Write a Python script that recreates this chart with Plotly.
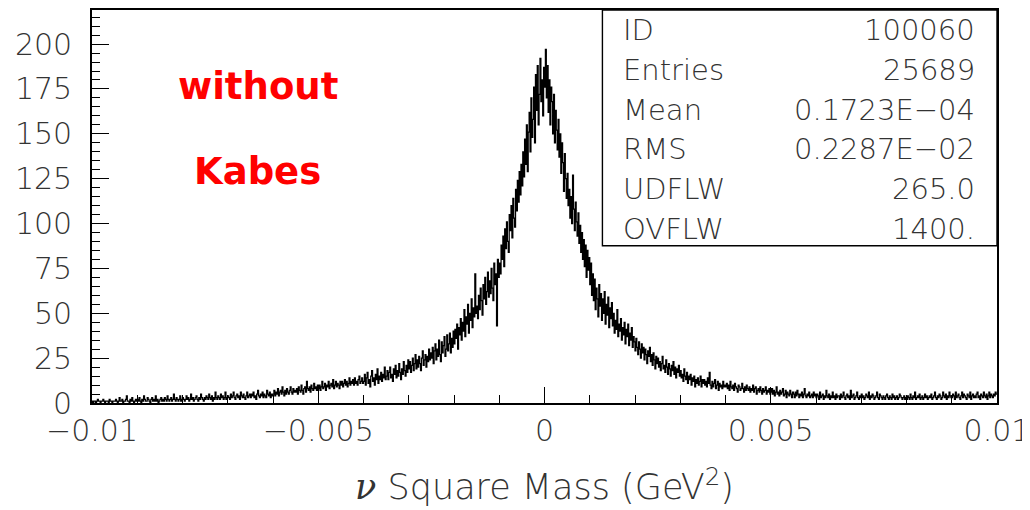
import plotly.graph_objects as go

# ---- data (1000 bins, -0.01 .. 0.01) ----
x_min, x_max, n_bins = -0.01, 0.01, 1000

seg_left_tail = [
    1,0,1,1,0,1,2,1,1,0,1,1,2,1,0,1,1,1,0,2,1,1,0,1,1,
    1,2,1,0,1,3,1,1,2,0,1,1,2,4,1,1,0,2,1,3,1,0,1,2,1,
    2,1,3,1,0,2,1,4,2,1,1,3,2,1,0,2,3,1,2,1,4,1,2,0,1,
    2,3,1,2,1,3,2,1,4,2,1,2,3,1,2,5,2,1,3,2,1,2,4,1,2,
    3,2,1,2,4,2,3,1,2,5,2,3,1,2,3,4,2,1,3,2,5,3,2,1,3,
    2,4,3,2,5,3,2,4,1,3,2,6,3,2,4,3,2,5,3,4,2,3,6,2,3,
    4,3,2,5,3,4,6,3,2,4,5,3,4,2,6,4,3,5,3,2,4,6,3,4,5,
    3,5,4,6,3,4,2,5,7,4,3,5,4,6,3,5,4,3,7,5,4,6,3,5,4,
]
seg_left_rise = [
    5,7,4,6,5,8,4,6,7,5,9,6,4,7,5,8,6,5,7,9,6,5,8,6,7,
    6,8,5,9,7,6,10,7,5,8,9,6,12,8,7,9,6,10,8,7,11,8,9,7,10,
    8,10,7,9,12,8,9,11,7,10,9,12,8,10,11,9,13,8,10,12,9,11,10,8,12,
    10,12,9,11,13,10,12,9,11,14,10,12,11,13,10,14,11,12,10,13,15,11,12,14,11,
    12,16,10,14,17,11,13,9,15,18,12,14,10,16,13,19,11,15,13,17,12,16,14,20,13,
    15,18,13,17,20,14,16,12,19,16,21,14,18,15,22,17,13,19,16,23,18,15,21,17,24,
    19,23,17,21,25,18,22,27,19,24,20,26,22,18,25,29,21,24,27,20,26,23,30,24,28,
    25,31,22,29,33,24,30,26,35,27,23,34,28,32,37,26,30,38,29,33,39,28,36,31,40,
    33,41,36,44,30,42,38,47,35,45,40,52,37,48,44,55,39,50,46,58,42,53,48,72,50,
    54,47,60,52,64,57,49,66,58,70,55,62,73,59,68,61,75,64,57,78,66,72,43,80,70,
]
seg_core = [
    78,72,88,80,93,76,97,86,101,90,84,105,96,110,92,114,103,98,119,107,124,112,129,116,133,
    121,140,126,147,133,155,129,151,162,140,170,148,158,176,145,183,163,188,155,172,192,168,180,160,187,
    176,197,170,188,162,180,155,176,168,150,172,145,163,152,141,158,137,150,128,145,134,118,139,125,114,
    128,110,119,103,115,100,127,108,96,112,101,93,106,89,99,84,95,80,91,76,88,70,85,74,81,
]
seg_right_fall = [
    66,78,60,72,57,69,52,64,58,48,66,54,61,46,58,50,62,44,55,49,59,42,53,47,56,
    43,50,39,46,41,52,37,44,40,47,35,42,38,45,33,41,37,44,32,39,35,42,31,37,34,
    29,36,31,27,34,30,25,33,28,31,24,30,27,22,29,26,31,23,27,21,28,24,19,26,22,
    25,20,23,18,22,26,19,21,17,24,20,16,22,19,15,21,18,23,16,20,14,19,17,21,15,
    18,14,16,12,19,15,13,17,11,15,13,16,10,14,12,15,9,13,11,14,10,12,15,9,13,
    11,13,10,12,9,14,11,17,10,8,12,9,11,13,8,10,12,7,11,9,10,8,12,9,10,
]
seg_right_tail = [
    9,11,8,10,7,12,9,8,10,7,11,9,8,6,10,9,7,8,11,8,6,9,7,10,8,
    7,9,6,8,7,10,6,8,9,5,7,8,6,9,7,5,8,6,7,9,5,7,6,8,5,
    6,8,5,7,4,6,9,5,6,4,7,5,6,8,4,5,7,3,6,5,4,7,5,3,6,
    5,3,6,4,7,5,3,5,4,6,3,5,8,4,3,5,4,6,3,4,5,3,6,4,5,
    3,5,4,2,6,3,4,5,2,4,3,7,4,3,5,2,4,3,6,3,4,2,5,3,4,
    4,2,5,3,4,6,3,2,4,5,3,4,2,7,3,4,5,2,3,4,6,3,2,4,3,
    5,3,4,2,3,5,4,3,6,2,4,3,5,4,2,3,4,6,3,2,5,4,3,2,4,
    3,2,4,5,3,2,4,3,2,5,3,4,2,3,4,2,3,5,4,3,2,3,4,2,3,
    2,4,3,2,5,3,2,4,3,6,2,3,4,3,5,2,3,4,2,3,5,3,4,2,3,
    4,3,5,2,3,4,6,3,2,4,3,5,4,2,3,6,4,3,5,2,4,3,6,4,3,
    3,5,4,2,6,3,4,5,3,2,4,6,3,5,4,3,2,5,4,3,6,2,4,5,3,
    4,3,5,6,3,4,2,5,4,3,6,4,3,5,2,4,6,3,5,4,3,5,4,6,5,
]

stats_labels = ["ID", "Entries", "Mean", "RMS", "UDFLW", "OVFLW"]
stats_values = ["100060", "25689", "0.1723E\u221204", "0.2287E\u221202", "265.0", "1400."]
note_lines = ["without", "Kabes"]

counts = seg_left_tail + seg_left_rise + seg_core + seg_right_fall + seg_right_tail
counts = counts[:n_bins] + [0] * max(0, n_bins - len(counts))
bw = (x_max - x_min) / n_bins
edges = [x_min + i * bw for i in range(n_bins + 1)]

fig = go.Figure()
fig.add_trace(go.Scatter(
    x=[x_min] + edges, y=[0] + counts + [counts[-1]],
    mode="lines", line=dict(color="black", width=1.25, shape="hv"),
    hoverinfo="skip", showlegend=False))

FONT = "DejaVu Sans, Liberation Sans, sans-serif"
tick_font = dict(family=FONT, size=30, color="#333333", weight=200)

fig.update_layout(
    width=1022, height=502,
    margin=dict(l=84, r=30, t=0, b=107),
    paper_bgcolor="white", plot_bgcolor="white",
    xaxis=dict(range=[x_min, x_max], showgrid=False, zeroline=False,
               showline=True, linecolor="black", linewidth=1.6, mirror=True,
               ticks="inside", tickcolor="black", ticklen=16, tickwidth=1,
               tickmode="array", tickvals=[-0.01, -0.005, 0, 0.005, 0.01],
               ticktext=["\u22120.01", "\u22120.005", "0", "0.005", "0.01"],
               tickfont=tick_font, ticklabelstandoff=0, ticklabeloverflow="allow",
               minor=dict(dtick=0.001, ticks="inside", ticklen=8, tickcolor="black", tickwidth=1, showgrid=False),
               title=dict(text="<span style=\"font-family:'DejaVu Serif';font-weight:normal\"><i>\u03bd</i></span> Square Mass (GeV<sup>2</sup>)",
                          font=dict(family=FONT, size=35, color="#333333", weight=200),
                          standoff=28)),
    yaxis=dict(range=[0, 219], showgrid=False, zeroline=False,
               showline=True, linecolor="black", linewidth=1.6, mirror=True,
               ticks="inside", tickcolor="black", ticklen=17, tickwidth=1,
               tick0=0, dtick=25, tickfont=tick_font, ticklabelstandoff=12,
               ticklabeloverflow="allow",
               minor=dict(dtick=5, ticks="inside", ticklen=8, tickcolor="black", tickwidth=1, showgrid=False)),
)

# stats box
fig.add_shape(type="rect", xref="paper", yref="paper", x0=0.564, x1=1.0, y0=0.4, y1=1.0,
              line=dict(color="black", width=1.4), fillcolor="white", layer="above")
stat_font = dict(family=FONT, size=29, color="#333333", weight=200)
for k, (lab, val) in enumerate(zip(stats_labels, stats_values)):
    yy = 0.949 - k * 0.1013
    fig.add_annotation(xref="paper", yref="paper", x=0.5846, y=yy, text=lab, showarrow=False,
                       xanchor="left", yanchor="middle", font=stat_font)
    fig.add_annotation(xref="paper", yref="paper", x=0.978, y=yy, text=val, showarrow=False,
                       xanchor="right", yanchor="middle", font=stat_font)

red_font = dict(family="DejaVu Sans, sans-serif", size=37, color="#ff0000", weight="bold")
for k, t in enumerate(note_lines):
    fig.add_annotation(xref="paper", yref="paper", x=0.183, y=0.805 - k * 0.215, text=t,
                       showarrow=False, xanchor="center", yanchor="middle", font=red_font)

fig.write_html("out.html")
